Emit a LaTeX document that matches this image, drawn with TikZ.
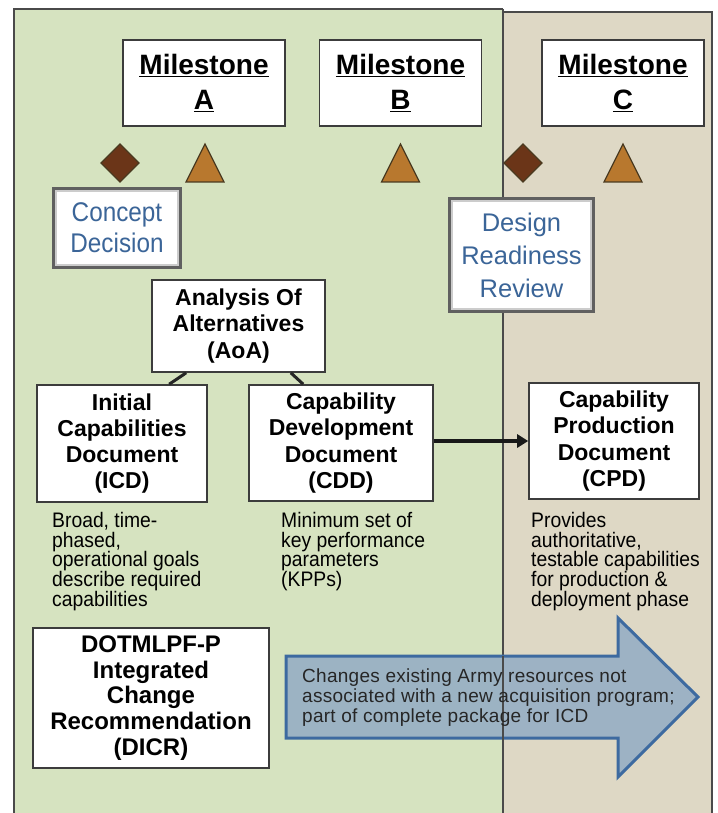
\documentclass[tikz,border=0pt]{standalone}
\usepackage{fontspec}
\setmainfont{Liberation Sans}
\newfontfamily\narrowfont[FakeStretch=0.92]{Liberation Sans}
\newfontfamily\condfont[FakeStretch=0.9]{Liberation Sans}
\newfontfamily\spacedfont[LetterSpace=1.5]{Liberation Sans}
\usetikzlibrary{arrows.meta}
\definecolor{greenbg}{HTML}{D6E3C0}
\definecolor{tanbg}{HTML}{DED8C5}
\definecolor{framec}{HTML}{4A4A4A}
\definecolor{boxline}{HTML}{3C3C3C}
\definecolor{tri}{HTML}{B8782E}
\definecolor{dia}{HTML}{6B3518}
\definecolor{shapeline}{HTML}{4A3A20}
\definecolor{bluetxt}{HTML}{3B6598}
\definecolor{arrowfill}{HTML}{98AFC4}
\definecolor{arrowline}{HTML}{3D6AA0}
\begin{document}
\begin{tikzpicture}[x=1pt,y=-1pt,
  frame/.style={draw=framec,line width=2},
  wbox/.style={draw=boxline,line width=1.6,fill=white,inner sep=0,align=center},
  milestone/.style={wbox,minimum width=162,minimum height=86,font=\bfseries\fontsize{28}{35}\selectfont},
  docbox/.style={wbox,font=\bfseries\fontsize{23}{26.3}\selectfont},
  desc/.style={inner sep=0,anchor=north west,align=left,font=\narrowfont\fontsize{21}{19.7}\selectfont},
  glowbox/.style={fill=white,inner sep=0,align=center,text=bluetxt},
  triangleshape/.style={fill=tri,draw=shapeline,line width=1.2},
  diamondshape/.style={fill=dia,draw=shapeline,line width=1.2},
  link/.style={draw=black!85,line width=3},
]
\useasboundingbox (0,0) rectangle (717,813);
\fill[white] (0,0) rectangle (717,813);
% panels
\fill[greenbg] (14,9) rectangle (503,813);
\fill[tanbg] (503,12) rectangle (712,813);
\draw[frame] (14,813) -- (14,9) -- (503,9);
\draw[frame] (503,12) -- (712,12) -- (712,813);
\draw[draw=framec,line width=2] (503,9) -- (503,813);

% milestones
\node[milestone] (msA) at (204,83) {\underline{Milestone}\\\underline{A}};
\node[milestone] (msB) at (400.5,83) {\underline{Milestone}\\\underline{B}};
\node[milestone] (msC) at (623,83) {\underline{Milestone}\\\underline{C}};

% markers
\draw[diamondshape] (120,144) -- (139,163) -- (120,182) -- (101,163) -- cycle;
\draw[triangleshape] (205,144) -- (224,182) -- (186,182) -- cycle;
\draw[triangleshape] (400.5,144) -- (419.5,182) -- (381.5,182) -- cycle;
\draw[diamondshape] (523,144) -- (542,163) -- (523,182) -- (504,163) -- cycle;
\draw[triangleshape] (623,144) -- (642,182) -- (604,182) -- cycle;

% glow boxes
\node[glowbox,minimum width=130,minimum height=82,font=\condfont\fontsize{27}{31}\selectfont] (cd) at (117,228) {Concept\\Decision};
\draw[draw=gray!40,line width=3] ([shift={(4,4)}]cd.north west) rectangle ([shift={(-4,-4)}]cd.south east);
\draw[draw=gray!75!black,line width=2.5] ([shift={(1.5,1.5)}]cd.north west) rectangle ([shift={(-1.5,-1.5)}]cd.south east);
\node[glowbox,minimum width=147,minimum height=116,font=\fontsize{25.5}{33}\selectfont] (drr) at (521.5,255) {Design\\Readiness\\Review};
\draw[draw=gray!40,line width=3] ([shift={(4,4)}]drr.north west) rectangle ([shift={(-4,-4)}]drr.south east);
\draw[draw=gray!75!black,line width=2.5] ([shift={(1.5,1.5)}]drr.north west) rectangle ([shift={(-1.5,-1.5)}]drr.south east);

% documents
\node[docbox,minimum width=173,minimum height=92] (aoa) at (238.5,326) {Analysis Of\\Alternatives\\(AoA)};
\node[docbox,minimum width=170,minimum height=117] (icd) at (122,443.5) {Initial\\Capabilities\\Document\\(ICD)};
\node[docbox,minimum width=184,minimum height=116] (cdd) at (341,443) {Capability\\Development\\Document\\(CDD)};
\node[docbox,minimum width=170,minimum height=116] (cpd) at (614,441) {Capability\\Production\\Document\\(CPD)};

\draw[link] ([xshift=35]aoa.south west) -- ([xshift=133]icd.north west);
\draw[link] ([xshift=-35]aoa.south east) -- ([xshift=55]cdd.north west);
\draw[draw=black!90,line width=3.5,-{Triangle[length=11,width=13]}] (cdd.east |- cpd.west) -- (cpd.west);

% descriptions
\node[desc] (icdd) at (52,512) {Broad, time-\\phased,\\operational goals\\describe required\\capabilities};
\node[desc] (cddd) at (281,512) {Minimum set of\\key performance\\parameters\\(KPPs)};
\node[desc] (cpdd) at (531,512) {Provides\\authoritative,\\testable capabilities\\for production \&\\deployment phase};

% DICR
\node[docbox,font=\bfseries\fontsize{24}{25.7}\selectfont,minimum width=236,minimum height=140] (dicr) at (151,698) {DOTMLPF-P\\Integrated\\Change\\Recommendation\\(DICR)};

% big arrow
\draw[fill=arrowfill,fill opacity=0.92,draw=arrowline,line width=3,line join=miter]
  (286,656) -- (618,656) -- (618,618) -- (698,697) -- (618,777) -- (618,738) -- (286,738) -- cycle;
\draw[draw=framec,line width=2] (503,656) -- (503,748);
\node[inner sep=0,anchor=north west,align=left,font=\spacedfont\fontsize{19}{20}\selectfont,text=black!85] (chg) at (302,669)
  {Changes existing Army resources not\\associated with a new acquisition program;\\part of complete package for ICD};
\end{tikzpicture}
\end{document}
